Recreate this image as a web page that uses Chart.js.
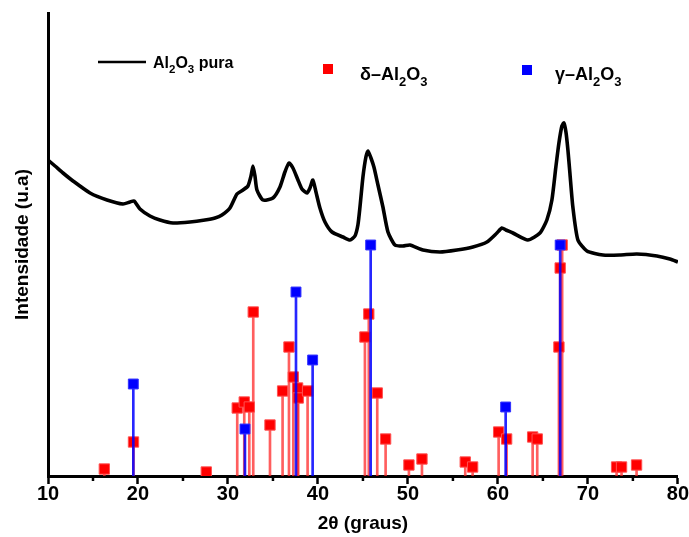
<!DOCTYPE html>
<html><head><meta charset="utf-8">
<script src="https://cdn.jsdelivr.net/npm/chart.js@4/dist/chart.umd.min.js"></script>
<style>html,body{margin:0;padding:0;background:#fff}canvas{display:block}</style>
</head><body>
<canvas id="c" width="689" height="537"></canvas>
<script>
// ---- data ----
const curveX = [10.00,10.78,11.67,12.78,14.67,16.56,18.33,19.11,19.56,20.22,21.33,22.44,23.89,25.78,27.44,28.56,29.33,30.22,31.00,31.67,32.22,32.56,32.78,33.00,33.22,33.89,35.00,35.78,36.33,36.78,37.22,37.78,38.22,38.78,39.11,39.44,39.78,40.22,40.78,41.56,42.78,43.56,44.11,44.44,44.67,45.00,45.33,45.56,45.89,46.22,46.67,47.22,47.78,48.56,49.44,50.22,51.67,53.56,55.44,57.22,58.78,59.89,60.44,60.89,61.67,63.33,64.67,65.44,66.00,66.44,66.78,67.11,67.33,67.56,67.78,68.00,68.33,68.89,69.89,71.67,73.56,75.44,77.67,79.11,80.00];
const curveY = [316,310,303,295,283,276,272,274,275,267,260,256,253,254,256,258,261,268,282,286,290,300,310,300,286,276,278,289,304,313,308,296,287,283,288,296,284,268,254,244,239,236,240,251,269,299,319,325,318,309,291,269,244,231,230,231,226,224,226,229,234,243,248,246,243,236,243,256,276,309,333,350,353,344,326,303,269,236,225,221,221,222,220,217,214];
const deltaX = [16.26,19.50,27.59,31.03,31.81,32.37,32.81,34.67,36.07,36.78,37.26,37.74,37.81,38.85,45.22,45.65,46.59,47.52,50.11,51.56,56.37,57.19,60.08,60.97,63.86,64.37,66.78,66.92,67.14,73.19,73.74,75.41];
const deltaY = [7,34,4,68,74,69,164,51,85,129,99,88,78,85,139,162,83,37,11,17,14,9,44,37,39,37,129,208,231,9,9,11];
const gammaX = [19.48,31.89,37.56,39.41,45.86,60.86,66.92];
const gammaY = [92,47,184,116,231,69,231];
const xTicks = [10,20,30,40,50,60,70,80];
const seriesLabels = ['Al2O3 pura','δ–Al2O3','γ–Al2O3'];
const xTitle = '2θ (graus)';
const yTitle = 'Intensidade (u.a)';

const pts = (xs, ys) => xs.map((x, i) => ({x, y: ys[i]}));
const FONT = "'Liberation Sans', Arial, sans-serif";

function drawRich(ctx, text, x, y, size) {
  // digits rendered as subscripts
  const parts = text.match(/\d+|[^\d]+/g);
  for (const p of parts) {
    const sub = /^\d+$/.test(p);
    const s = sub ? size * 0.72 : size;
    ctx.font = 'bold ' + s + 'px ' + FONT;
    ctx.fillText(p, x, y + (sub ? size * 0.32 : 0));
    x += ctx.measureText(p).width;
  }
}

const legendPlugin = {
  id: 'customLegend',
  afterDraw(chart) {
    const ctx = chart.ctx;
    ctx.save();
    ctx.fillStyle = '#000';
    ctx.textBaseline = 'alphabetic';
    ctx.textAlign = 'left';
    ctx.strokeStyle = '#000'; ctx.lineWidth = 2.5;
    ctx.beginPath(); ctx.moveTo(98, 62); ctx.lineTo(146, 62); ctx.stroke();
    drawRich(ctx, seriesLabels[0], 153, 68, 16);
    ctx.fillStyle = '#ff0000'; ctx.fillRect(323, 64, 10, 10);
    ctx.fillStyle = '#000';
    drawRich(ctx, seriesLabels[1], 360, 80, 18);
    ctx.fillStyle = '#0000ff'; ctx.fillRect(522, 65, 10, 10);
    ctx.fillStyle = '#000';
    drawRich(ctx, seriesLabels[2], 555, 80, 18);
    ctx.restore();
  }
};

const minorTicks = {
  id: 'minorTicks',
  afterDraw(chart) {
    const sx = chart.scales.x, ctx = chart.ctx, b = chart.chartArea.bottom;
    ctx.save(); ctx.strokeStyle = '#000'; ctx.lineWidth = 2.5;
    for (let i = 0; i < xTicks.length - 1; i++) {
      const px = sx.getPixelForValue((xTicks[i] + xTicks[i + 1]) / 2);
      ctx.beginPath(); ctx.moveTo(px, b); ctx.lineTo(px, b + 5); ctx.stroke();
    }
    ctx.restore();
  }
};

new Chart(document.getElementById('c'), {
  type: 'scatter',
  data: {
    datasets: [
      { type: 'line', label: seriesLabels[0], data: pts(curveX, curveY), borderColor: '#000', borderWidth: 3.6, borderJoinStyle: 'round', pointRadius: 0, tension: 0.2, order: 0 },
      { type: 'scatter', label: seriesLabels[2], data: pts(gammaX, gammaY), pointStyle: 'rect', pointRadius: 7, backgroundColor: '#0000ff', borderColor: '#3030ff', borderWidth: 1, order: 1 },
      { type: 'bar', label: seriesLabels[2] + ' bars', data: pts(gammaX, gammaY), backgroundColor: 'rgba(0,0,255,0.85)', barThickness: 2, grouped: false, order: 2 },
      { type: 'scatter', label: seriesLabels[1], data: pts(deltaX, deltaY), pointStyle: 'rect', pointRadius: 7.3, backgroundColor: '#ff0000', borderColor: '#ff5050', borderWidth: 1, order: 3 },
      { type: 'bar', label: seriesLabels[1] + ' bars', data: pts(deltaX, deltaY), backgroundColor: 'rgba(255,40,40,0.75)', barThickness: 2, grouped: false, order: 4 }
    ]
  },
  options: {
    responsive: false,
    animation: false,
    devicePixelRatio: 1,
    layout: { padding: { top: 13, right: 11, left: 0, bottom: 0 } },
    plugins: { legend: { display: false }, tooltip: { enabled: false } },
    scales: {
      x: {
        type: 'linear', min: 10, max: 80, offset: false,
        afterFit: s => { s.height = 61; },
        ticks: { stepSize: 10, padding: 0, color: '#000', font: { family: FONT, size: 20, weight: 'bold', lineHeight: 1 }, maxRotation: 0 },
        grid: { display: true, offset: false, drawOnChartArea: false, drawTicks: true, tickLength: 8, tickWidth: 2.5, tickColor: '#000', color: '#000' },
        border: { display: true, color: '#000', width: 3 },
        title: { display: true, text: xTitle, color: '#000', font: { family: FONT, size: 19, weight: 'bold', lineHeight: 1.2 }, padding: { top: 0, bottom: 2 } }
      },
      y: {
        type: 'linear', min: 0, max: 463,
        afterFit: s => { s.width = 48; },
        ticks: { display: false },
        grid: { display: false, drawTicks: false },
        border: { display: true, color: '#000', width: 3 },
        title: { display: true, text: yTitle, color: '#000', font: { family: FONT, size: 19, weight: 'bold', lineHeight: 1.2 }, padding: { top: 11, bottom: 0 } }
      }
    }
  },
  plugins: [legendPlugin, minorTicks]
});
</script>
</body></html>
